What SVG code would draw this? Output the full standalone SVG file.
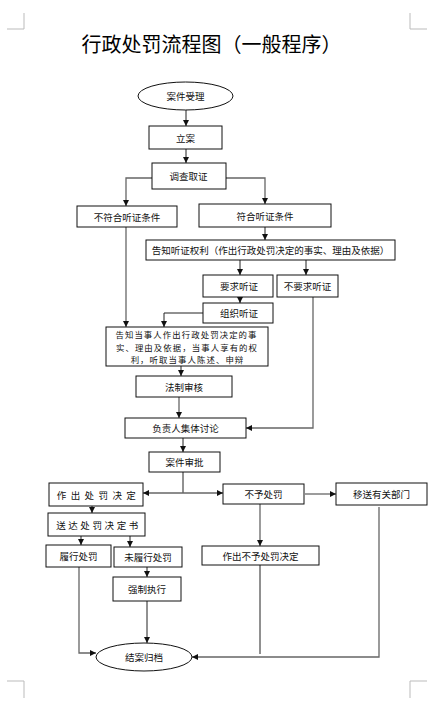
<svg xmlns="http://www.w3.org/2000/svg" width="447" height="713" viewBox="0 0 447 713">
<defs>
<marker id="ah" viewBox="0 0 6 6" refX="6" refY="3" markerWidth="6" markerHeight="6" markerUnits="userSpaceOnUse" orient="auto">
<path d="M0,0 L6,3 L0,6 z" fill="#111"/>
</marker>
<style>
.b{fill:#fff;stroke:#111;stroke-width:1}
.t{font-family:"Noto Sans CJK SC","Liberation Sans",sans-serif;font-size:9.5px;fill:#111;text-anchor:middle;dominant-baseline:central}
.c{fill:none;stroke:#222;stroke-width:1}
.g{fill:none;stroke:#666;stroke-width:1.3}
.a{marker-end:url(#ah)}
.m{fill:none;stroke:#bbb;stroke-width:1}
</style>
</defs>
<rect width="447" height="713" fill="#fff"/>
<g id="corners">
<path class="m" d="M7,29 H24 V13 M427,29 H410 V13 M7,681 H24 V698 M427,681 H410 V698"/>
</g>
<text x="211.5" y="43" style="font-family:'Noto Sans CJK SC','Liberation Sans',sans-serif;font-size:20px;fill:#000;text-anchor:middle;dominant-baseline:central">行政处罚流程图（一般程序）</text>
<g id="connectors">
<path class="c a" d="M186,110 V126"/>
<path class="c a" d="M186,149 V163"/>
<path class="g a" d="M152,178 H126 V206"/>
<path class="g a" d="M226,178 H265 V204"/>
<path class="c a" d="M265,227 V240"/>
<path class="c a" d="M240,260 V275"/>
<path class="c a" d="M306,260 V275"/>
<path class="c a" d="M240,297 V303"/>
<path class="c a" d="M203,313 H164 V327"/>
<path class="g a" d="M126,227 V327"/>
<path class="c a" d="M181,366 V376"/>
<path class="g a" d="M179,397 V418"/>
<path class="g a" d="M313,297 V428 H246"/>
<path class="c a" d="M183,438 V452"/>
<path class="c" d="M183,472 V493"/>
<path class="g a" d="M183,493 H143"/>
<path class="g a" d="M183,493 H223"/>
<path class="g a" d="M305,494 H336"/>
<path class="c a" d="M92,506 V513"/>
<path class="c a" d="M81,536 V545"/>
<path class="c a" d="M130,536 V547"/>
<path class="c a" d="M147,567 V577"/>
<path class="g a" d="M260,504 V546"/>
<path class="c" d="M260,565 V654"/>
<path class="g a" d="M379,507 V657 H192"/>
<path class="g a" d="M79,567 V653 H96"/>
<path class="c a" d="M147,601 V643"/>
</g>
<g id="n1"><ellipse class="b" cx="185.5" cy="96" rx="47.5" ry="14"/><text class="t" x="185.5" y="96">案件受理</text></g>
<g id="n2"><rect class="b" x="149" y="126" width="73" height="23"/><text class="t" x="185.5" y="137.5">立案</text></g>
<g id="n3"><rect class="b" x="152" y="163" width="74" height="26"/><text class="t" x="188.5" y="176">调查取证</text></g>
<g id="n4"><rect class="b" x="77" y="206" width="100" height="21"/><text class="t" x="127" y="216.5">不符合听证条件</text></g>
<g id="n5"><rect class="b" x="199" y="204" width="132" height="23"/><text class="t" x="265" y="215.5">符合听证条件</text></g>
<g id="n6"><rect class="b" x="146" y="240" width="249" height="20"/><text class="t" x="270.5" y="250">告知听证权利（作出行政处罚决定的事实、理由及依据）</text></g>
<g id="n7"><rect class="b" x="203" y="275" width="70" height="22"/><text class="t" x="239" y="286">要求听证</text></g>
<g id="n8"><rect class="b" x="277" y="275" width="61" height="22"/><text class="t" x="307.5" y="286">不要求听证</text></g>
<g id="n9"><rect class="b" x="203" y="303" width="70" height="20"/><text class="t" x="239" y="313">组织听证</text></g>
<g id="n10"><rect class="b" x="106" y="327" width="162" height="39"/>
<text class="t" style="font-size:8.4px" letter-spacing="1.1"><tspan x="186.5" y="334.2">告知当事人作出行政处罚决定的事</tspan><tspan x="187" y="346.5">实、理由及依据，当事人享有的权</tspan><tspan x="187.5" y="358.8">利，听取当事人陈述、申辩</tspan></text></g>
<g id="n11"><rect class="b" x="136" y="376" width="96" height="21"/><text class="t" x="184" y="386.5">法制审核</text></g>
<g id="n12"><rect class="b" x="125" y="418" width="121" height="20"/><text class="t" x="185.5" y="428">负责人集体讨论</text></g>
<g id="n13"><rect class="b" x="149" y="452" width="71" height="20"/><text class="t" x="184.5" y="462">案件审批</text></g>
<g id="n14"><rect class="b" x="49" y="483" width="94" height="23"/><text class="t" x="98.5" y="494.5" letter-spacing="4.4">作出处罚决定</text></g>
<g id="n15"><rect class="b" x="223" y="484" width="81" height="20"/><text class="t" x="263.5" y="494">不予处罚</text></g>
<g id="n16"><rect class="b" x="336" y="483" width="91" height="22"/><text class="t" x="381.5" y="494">移送有关部门</text></g>
<g id="n17"><rect class="b" x="48" y="513" width="97" height="23"/><text class="t" x="98.5" y="524.5" letter-spacing="2.6">送达处罚决定书</text></g>
<g id="n18"><rect class="b" x="46" y="545" width="65" height="22"/><text class="t" x="78.5" y="556">履行处罚</text></g>
<g id="n19"><rect class="b" x="114" y="547" width="68" height="20"/><text class="t" x="148" y="557">未履行处罚</text></g>
<g id="n20"><rect class="b" x="113" y="577" width="68" height="24"/><text class="t" x="147" y="589">强制执行</text></g>
<g id="n21"><rect class="b" x="202" y="546" width="117" height="19"/><text class="t" x="260.5" y="555.5">作出不予处罚决定</text></g>
<g id="n22"><ellipse class="b" cx="144" cy="657" rx="48" ry="14"/><text class="t" x="144" y="657">结案归档</text></g>
</svg>
